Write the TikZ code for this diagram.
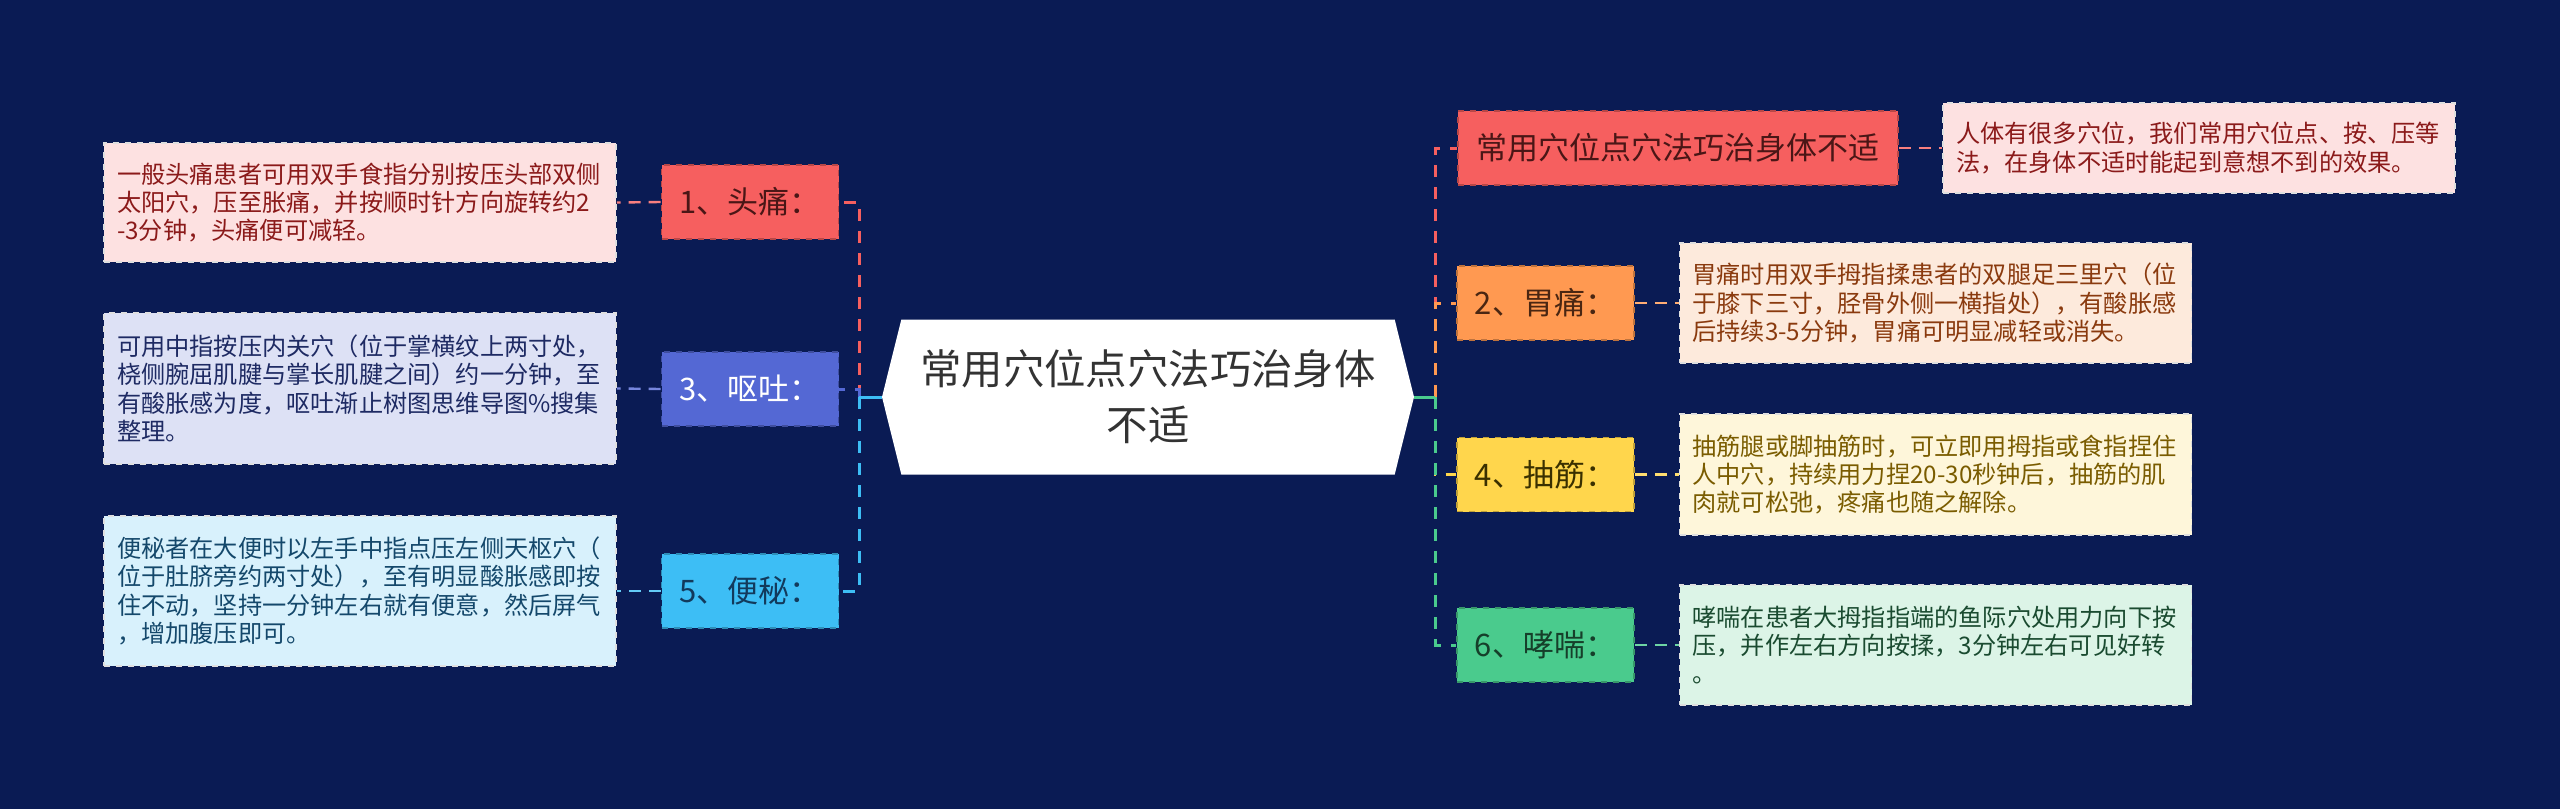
\documentclass[tikz,border=0pt]{standalone}
\usepackage{fontspec}
\setmainfont{Noto Sans CJK SC}
\usetikzlibrary{positioning,shapes.symbols}

\definecolor{bgc}{HTML}{0A1B54}
\definecolor{redc}{HTML}{F65F5F}\definecolor{redt}{HTML}{4A1616}
\definecolor{redd}{HTML}{FDE1E1}\definecolor{rede}{HTML}{8B1A1A}
\definecolor{indc}{HTML}{5468D4}\definecolor{indd}{HTML}{DDE1F5}\definecolor{inde}{HTML}{1E2A63}
\definecolor{skyc}{HTML}{3DBEF5}\definecolor{skyt}{HTML}{123A5C}
\definecolor{skyd}{HTML}{D8F1FC}\definecolor{skye}{HTML}{14486B}
\definecolor{orac}{HTML}{FF9951}\definecolor{orat}{HTML}{4A2612}
\definecolor{orad}{HTML}{FDEADC}\definecolor{orae}{HTML}{8A3A0E}
\definecolor{yelc}{HTML}{FFD64C}\definecolor{yelt}{HTML}{3A3000}
\definecolor{yeld}{HTML}{FEF6DA}\definecolor{yele}{HTML}{7A5C00}
\definecolor{grnc}{HTML}{4ACB8D}\definecolor{grnt}{HTML}{163F2A}
\definecolor{grnd}{HTML}{DCF4E7}\definecolor{grne}{HTML}{1A4B30}

\begin{document}
\begin{tikzpicture}[x=0.5pt, y=-0.5pt,
  rootbox/.style={signal, signal to=west and east, signal pointer angle=152,
    fill=white, text=black!80, align=center, minimum width=266pt, minimum height=77.5pt,
    font=\fontsize{20.7}{28}\selectfont},
  lab/.style={rectangle, fill=#1, draw=#1!75!black, dashed, line width=0.8pt,
    minimum width=88.5pt, minimum height=37pt, font=\fontsize{15.5}{18}\selectfont},
  desc/.style={rectangle, fill=#1, draw=white!75!gray, dashed, line width=0.8pt,
    text width=243pt, inner xsep=6.5pt, align=left, font=\fontsize{12.1}{14.2}\selectfont},
  trunk/.style={draw=#1, line width=1.5pt, dash pattern=on 6pt off 5pt},
  link/.style={draw=#1!80!white, line width=1.2pt, dash pattern=on 6pt off 4pt},
  stub/.style={draw=#1, line width=1.5pt}]

  \useasboundingbox (0,0) rectangle (2560,809);
  \fill[bgc] (0,0) rectangle (2560,809);

  % central topic
  \node[rootbox] (root) at (1148,397) {常用穴位点穴法巧治身体\\不适};
  \coordinate (jl) at (859,397);
  \coordinate (jr) at (1435,397);

  % left branches
  \node[lab=redc, text=redt] (l1) at (750,202) {1、头痛：};
  \node[lab=indc, text=white] (l3) at (750,389) {3、呕吐：};
  \node[lab=skyc, text=skyt] (l5) at (750,591) {5、便秘：};

  \node[desc=redd, text=rede, minimum height=59.5pt] (d1) at (360,202.5)
    {一般头痛患者可用双手食指分别按压头部双侧\\太阳穴，压至胀痛，并按顺时针方向旋转约2\\-3分钟，头痛便可减轻。};
  \node[desc=indd, text=inde, minimum height=75.5pt] (d3) at (360,388.5)
    {可用中指按压内关穴（位于掌横纹上两寸处，\\桡侧腕屈肌腱与掌长肌腱之间）约一分钟，至\\有酸胀感为度，呕吐渐止树图思维导图\%搜集\\整理。};
  \node[desc=skyd, text=skye, minimum height=75pt] (d5) at (360,591)
    {便秘者在大便时以左手中指点压左侧天枢穴（\\位于肚脐旁约两寸处），至有明显酸胀感即按\\住不动，坚持一分钟左右就有便意，然后屏气\\，增加腹压即可。};

  % right branches
  \node[lab=redc, text=redt, minimum width=220pt] (lt) at (1678,148) {常用穴位点穴法巧治身体不适};
  \node[lab=orac, text=orat] (l2) at (1545.5,303) {2、胃痛：};
  \node[lab=yelc, text=yelt] (l4) at (1545.5,474.5) {4、抽筋：};
  \node[lab=grnc, text=grnt] (l6) at (1545.5,645) {6、哮喘：};

  \node[desc=redd, text=rede, minimum height=45pt] (dt) at (2199,148)
    {人体有很多穴位，我们常用穴位点、按、压等\\法，在身体不适时能起到意想不到的效果。};
  \node[desc=orad, text=orae, minimum height=60pt] (d2) at (1935.5,303)
    {胃痛时用双手拇指揉患者的双腿足三里穴（位\\于膝下三寸，胫骨外侧一横指处），有酸胀感\\后持续3-5分钟，胃痛可明显减轻或消失。};
  \node[desc=yeld, text=yele, minimum height=60.5pt] (d4) at (1935.5,474.5)
    {抽筋腿或脚抽筋时，可立即用拇指或食指捏住\\人中穴，持续用力捏20-30秒钟后，抽筋的肌\\肉就可松弛，疼痛也随之解除。};
  \node[desc=grnd, text=grne, minimum height=60pt] (d6) at (1935.5,645)
    {哮喘在患者大拇指指端的鱼际穴处用力向下按\\压，并作左右方向按揉，3分钟左右可见好转\\。};

  % trunks
  \draw[trunk=redc] (jl) |- (l1.east);
  \draw[trunk=indc] (jl) |- (l3.east);
  \draw[trunk=skyc] (jl) |- (l5.east);
  \draw[stub=skyc] (root.west) -- (jl);

  \draw[trunk=redc] (jr) |- (lt.west);
  \draw[trunk=orac] (jr) |- (l2.west);
  \draw[trunk=yelc] (jr) |- (l4.west);
  \draw[trunk=grnc] (jr) |- (l6.west);
  \draw[stub=grnc] (root.east) -- (jr);

  % label to text
  \draw[link=redc] (l1.west) -- (d1.east);
  \draw[link=indc] (l3.west) -- (d3.east);
  \draw[link=skyc] (l5.west) -- (d5.east);
  \draw[link=redc] (lt.east) -- (dt.west);
  \draw[link=orac] (l2.east) -- (d2.west);
  \draw[link=yelc] (l4.east) -- (d4.west);
  \draw[link=grnc] (l6.east) -- (d6.west);
\end{tikzpicture}
\end{document}
